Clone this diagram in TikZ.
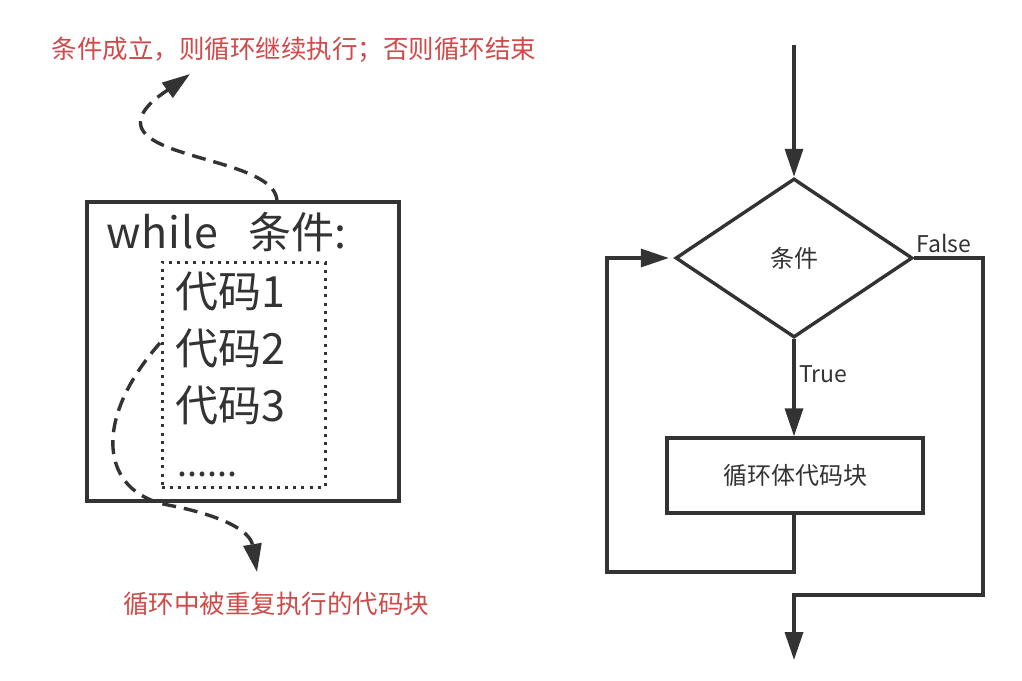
\documentclass[tikz,border=0pt]{standalone}
\usepackage{fontspec}
\setmainfont{Noto Sans CJK SC}
\usetikzlibrary{arrows.meta,shapes.geometric}
\definecolor{ink}{RGB}{51,51,51}
\definecolor{note}{RGB}{208,74,74}
\tikzset{
  line/.style={draw=ink,line width=3.4pt},
  tip/.style={-{Triangle[width=18pt,length=28pt]}},
  flowarrow/.style={line,tip},
  dasharrow/.style={draw=ink,line width=3.4pt,dash pattern=on 14pt off 8pt,tip},
  notetext/.style={text=note,font=\fontsize{25.5}{30}\selectfont,inner sep=0pt},
  bigtext/.style={text=ink,font=\fontsize{43}{50}\selectfont,inner sep=0pt,anchor=west},
  flowtext/.style={text=ink,font=\fontsize{24}{28}\selectfont,inner sep=0pt},
  labeltext/.style={text=ink,font=\fontsize{23}{28}\selectfont,inner sep=0pt},
}
\begin{document}
\begin{tikzpicture}[x=1pt,y=-1pt]
\useasboundingbox[fill=white] (0,0) rectangle (1022,680);

% ---------- left part ----------
\node[notetext] (topnote) at (294,50) {条件成立，则循环继续执行；否则循环结束};
\node[notetext] (botnote) at (276,604) {循环中被重复执行的代码块};

\node[draw=ink,line width=3.4pt,minimum width=312pt,minimum height=299pt,inner sep=0pt] (whilebox) at (243,351.5) {};
\node[draw=ink,line width=3pt,dash pattern=on 3pt off 5.2pt,minimum width=163pt,minimum height=225pt,inner sep=0pt] (body) at (243.5,374.5) {};

\node[bigtext] (whileline) at (106,232) {w\kern1pt h\kern1pt i\kern1pt l\kern1pt e\hspace{30pt}条件:};
\node[bigtext] (code1) at (175,291) {代码1};
\node[bigtext] (code2) at (175,348) {代码2};
\node[bigtext] (code3) at (175,405) {代码3};
\node[bigtext,font=\fontsize{36}{40}\selectfont] (dots) at (177,474) {......};

\coordinate (cstart) at (277,202);
\coordinate (ctip) at (190,74);
\draw[dasharrow] (cstart) .. controls (278,158) and (130,160) .. (141,118)
                          .. controls (145,104) and (165,92) .. (ctip);

\coordinate (rstart) at (160,343);
\coordinate (rtip) at (257,572);
\draw[dasharrow] (rstart) .. controls (92,420) and (100,492) .. (168,505)
                          .. controls (220,515) and (250,530) .. (rtip);

% ---------- right part ----------
\node[diamond,draw=ink,line width=3.4pt,minimum width=237pt,minimum height=159pt,inner sep=0pt,flowtext] (cond) at (794,258) {条件};
\node[draw=ink,line width=3.4pt,minimum width=256pt,minimum height=75pt,inner sep=0pt,flowtext] (loopbody) at (795,475.5) {循环体代码块};

\coordinate (entry) at (794,45);
\coordinate (exit) at (794,660);
\coordinate (falsecorner) at (983,258);
\coordinate (exitcorner) at (983,595);
\coordinate (exitturn) at (794,595);
\coordinate (loopdown) at (794,572);
\coordinate (loopleft) at (607,572);
\coordinate (loopup) at (607,258);

\draw[flowarrow] (entry) -- (cond.north);
\draw[flowarrow] (cond.south) -- (loopbody.north -| cond.south);
\draw[flowarrow,line join=miter] (loopbody.south -| cond.south) -- (loopdown) -- (loopleft) -- (loopup) -- ([xshift=-5pt]cond.west);
\draw[flowarrow,line join=miter] (cond.east) -- (falsecorner) -- (exitcorner) -- (exitturn) -- (exit);

\node[labeltext,anchor=west] (falselbl) at (916,243) {False};
\node[labeltext,anchor=west] (truelbl) at (799,374) {True};
\end{tikzpicture}
\end{document}
